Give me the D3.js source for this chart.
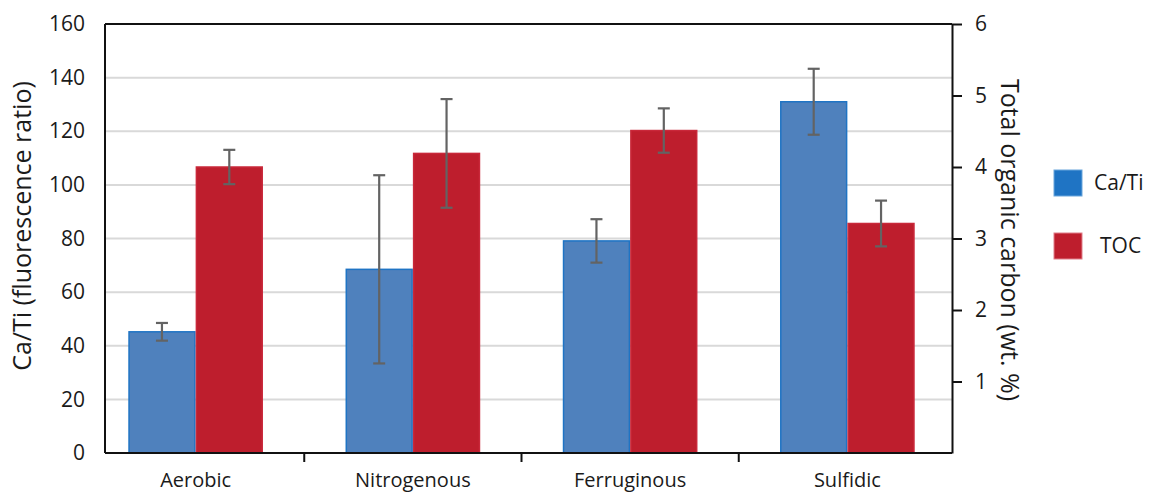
<!DOCTYPE html>
<html>
<head>
<meta charset="utf-8">
<script src="https://cdn.jsdelivr.net/npm/d3@7"></script>
<style>
  body { margin: 0; background: #fff; }
  svg { display: block; font-family: "Open Sans", "Liberation Sans", sans-serif; }
</style>
</head>
<body>
<div id="chart"></div>
<script>
const categories = ['Aerobic', 'Nitrogenous', 'Ferruginous', 'Sulfidic'];
const series = ['Ca/Ti', 'TOC'];
const caTi = [45.2, 68.5, 79.1, 131.0];
const caTiErr = [3.3, 35.1, 8.1, 12.3];
const toc = [4.00, 4.19, 4.51, 3.21];
const tocErr = [0.24, 0.76, 0.31, 0.32];
const leftTicks = [0, 20, 40, 60, 80, 100, 120, 140, 160];
const rightTicks = [1, 2, 3, 4, 5, 6];

const width = 1151;
const height = 494;
const frame = { left: 105, right: 952, top: 24, bottom: 453 };
const colors = { 'Ca/Ti': '#4f81bd', 'TOC': '#be1e2d' };
const strokes = { 'Ca/Ti': '#1f74c4', 'TOC': '#c9283a' };
const textColor = '#1a1a1a';
const axisColor = '#111';

const svg = d3.select('#chart').append('svg')
  .attr('width', width)
  .attr('height', height);

const yLeft = d3.scaleLinear().domain([0, 160]).range([frame.bottom, frame.top]);
const yRight = d3.scaleLinear().domain([0, 6]).range([frame.bottom, frame.top]);

const x = d3.scaleBand()
  .domain(categories)
  .range([87, 956])
  .paddingInner(0.38)
  .paddingOuter(0.19);

const xSub = d3.scaleBand().domain(series).range([0, x.bandwidth()]);

// gridlines
svg.append('g')
  .selectAll('line')
  .data(leftTicks.filter(d => d > 0 && d < 160))
  .enter()
  .append('line')
  .attr('x1', frame.left)
  .attr('x2', frame.right)
  .attr('y1', d => yLeft(d))
  .attr('y2', d => yLeft(d))
  .attr('stroke', '#d9d9d9')
  .attr('stroke-width', 2);

// bars
const rows = categories.map((c, i) => ({
  cat: c,
  items: [
    { key: 'Ca/Ti', v: caTi[i], e: caTiErr[i], y: yLeft },
    { key: 'TOC', v: toc[i], e: tocErr[i], y: yRight }
  ]
}));

const groups = svg.append('g')
  .selectAll('g')
  .data(rows)
  .enter()
  .append('g')
  .attr('transform', d => 'translate(' + x(d.cat) + ',0)');

groups.selectAll('rect')
  .data(d => d.items)
  .enter()
  .append('rect')
  .attr('x', d => xSub(d.key) + 0.75)
  .attr('width', xSub.bandwidth() - 1.5)
  .attr('y', d => d.y(d.v))
  .attr('height', d => frame.bottom - d.y(d.v))
  .attr('fill', d => colors[d.key])
  .attr('stroke', d => strokes[d.key])
  .attr('stroke-width', 1.5);

// error bars
const err = groups.selectAll('g.err')
  .data(d => d.items)
  .enter()
  .append('g')
  .attr('class', 'err')
  .attr('stroke', '#636363')
  .attr('stroke-width', 2.2);

err.append('line')
  .attr('x1', d => xSub(d.key) + xSub.bandwidth() / 2)
  .attr('x2', d => xSub(d.key) + xSub.bandwidth() / 2)
  .attr('y1', d => d.y(d.v + d.e))
  .attr('y2', d => d.y(d.v - d.e));

[1, -1].forEach(s => {
  err.append('line')
    .attr('x1', d => xSub(d.key) + xSub.bandwidth() / 2 - 6)
    .attr('x2', d => xSub(d.key) + xSub.bandwidth() / 2 + 6)
    .attr('y1', d => d.y(d.v + s * d.e))
    .attr('y2', d => d.y(d.v + s * d.e));
});

// frame
svg.append('line')
  .attr('x1', frame.left).attr('x2', frame.right)
  .attr('y1', frame.top).attr('y2', frame.top)
  .attr('stroke', axisColor).attr('stroke-width', 2);
svg.append('line')
  .attr('x1', frame.left).attr('x2', frame.right)
  .attr('y1', frame.bottom).attr('y2', frame.bottom)
  .attr('stroke', axisColor).attr('stroke-width', 2);
svg.append('line')
  .attr('x1', frame.left).attr('x2', frame.left)
  .attr('y1', frame.top).attr('y2', frame.bottom)
  .attr('stroke', axisColor).attr('stroke-width', 2);

// left axis
const leftAxis = svg.append('g')
  .attr('transform', 'translate(' + frame.left + ',0)')
  .call(d3.axisLeft(yLeft).tickValues(leftTicks).tickSize(0).tickPadding(20));
leftAxis.select('.domain').remove();
leftAxis.selectAll('text')
  .attr('font-family', '"Open Sans", sans-serif')
  .attr('font-size', 21)
  .attr('fill', textColor);

// right axis
const rightAxis = svg.append('g')
  .attr('transform', 'translate(' + frame.right + ',0)')
  .call(d3.axisRight(yRight).tickValues(rightTicks).tickFormat(d3.format('d'))
    .tickSize(10).tickPadding(13).tickSizeOuter(0));
rightAxis.select('.domain')
  .attr('stroke', axisColor).attr('stroke-width', 2);
rightAxis.selectAll('.tick line')
  .attr('stroke', axisColor).attr('stroke-width', 2);
rightAxis.selectAll('text')
  .attr('font-family', '"Open Sans", sans-serif')
  .attr('font-size', 21)
  .attr('fill', textColor);

// category axis
const sepTicks = categories.slice(0, -1).map(c => x(c) + x.step() - x.step() * x.paddingInner() / 2);
svg.append('g')
  .selectAll('line')
  .data(sepTicks)
  .enter()
  .append('line')
  .attr('x1', d => d).attr('x2', d => d)
  .attr('y1', frame.bottom).attr('y2', frame.bottom + 9)
  .attr('stroke', axisColor).attr('stroke-width', 2);

svg.append('g')
  .selectAll('text')
  .data(categories)
  .enter()
  .append('text')
  .attr('x', d => x(d) + x.bandwidth() / 2)
  .attr('y', 487)
  .attr('text-anchor', 'middle')
  .attr('font-size', 20)
  .attr('fill', textColor)
  .text(d => d);

// axis titles
svg.append('text')
  .attr('transform', 'translate(31,226) rotate(-90)')
  .attr('text-anchor', 'middle')
  .attr('font-size', 25)
  .attr('fill', textColor)
  .text('Ca/Ti (fluorescence ratio)');

svg.append('text')
  .attr('transform', 'translate(1001,240) rotate(90)')
  .attr('text-anchor', 'middle')
  .attr('font-size', 25)
  .attr('fill', textColor)
  .text('Total organic carbon (wt. %)');

// legend
const legend = svg.append('g')
  .selectAll('g')
  .data(series)
  .enter()
  .append('g')
  .attr('transform', (d, i) => 'translate(1054,' + (170 + i * 63) + ')');

legend.append('rect')
  .attr('width', 28)
  .attr('height', 26)
  .attr('fill', d => d === 'Ca/Ti' ? '#1f74c4' : colors[d])
  .attr('stroke', d => d === 'Ca/Ti' ? '#6aa6dc' : '#e07f8a')
  .attr('stroke-width', 1);

legend.append('text')
  .attr('x', (d, i) => i === 0 ? 40 : 46)
  .attr('y', 13)
  .attr('dy', '0.35em')
  .attr('font-size', 21)
  .attr('fill', textColor)
  .text(d => d);
</script>
</body>
</html>
